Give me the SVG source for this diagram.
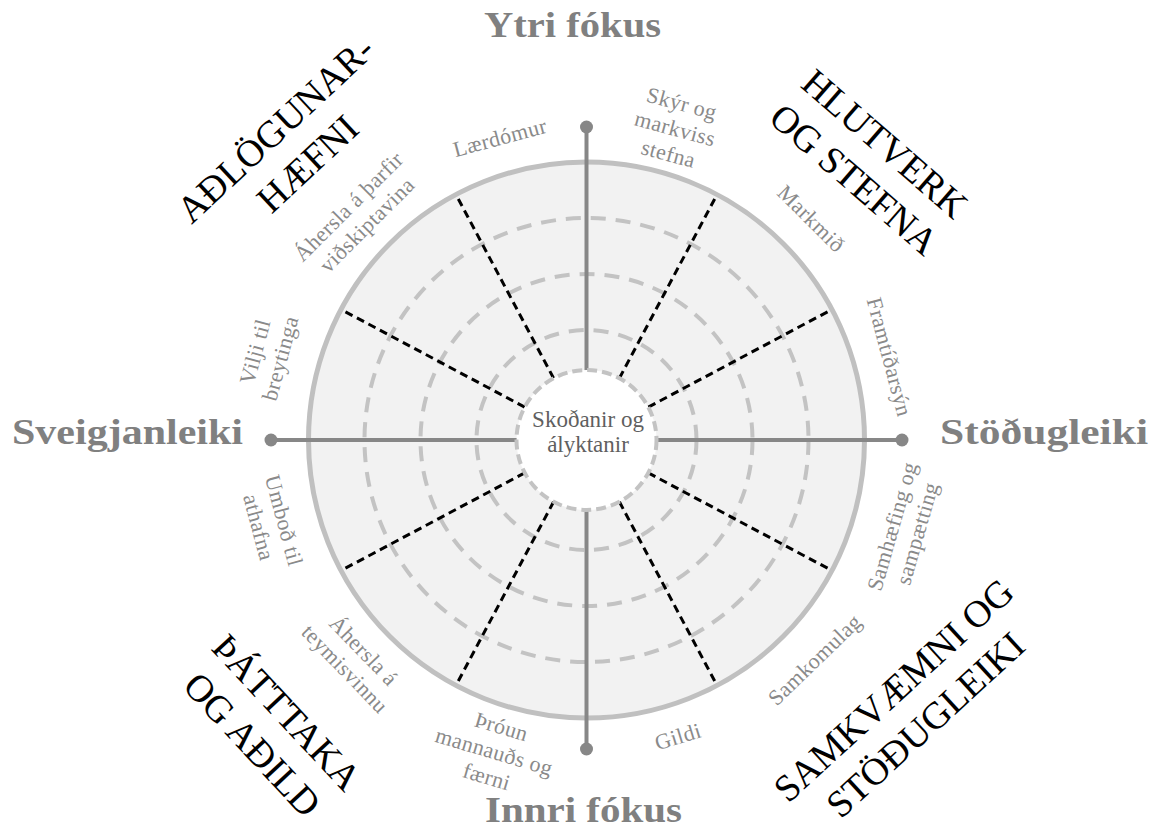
<svg xmlns="http://www.w3.org/2000/svg" width="1154" height="830" viewBox="0 0 1154 830">
<style>
  .axislbl { font-family: "Liberation Serif", "DejaVu Serif", serif; font-weight: bold; font-size: 36px; fill: #808080; }
  .big { font-family: "Liberation Serif", "DejaVu Serif", serif; font-size: 38px; fill: #000; text-anchor: middle; }
  .lbl { font-family: "Liberation Serif", "DejaVu Serif", serif; font-size: 22px; fill: #8a8a8a; text-anchor: middle; letter-spacing: 0.4px; }
  .ctr { font-family: "Liberation Serif", "DejaVu Serif", serif; font-size: 23px; fill: #5f5f5f; text-anchor: middle; }
  .ring { fill: none; stroke: #c3c3c3; stroke-width: 4; stroke-dasharray: 15 10; }
  .sector { stroke: #000; stroke-width: 3; stroke-dasharray: 8 5; fill: none; }
  .axis { stroke: #878787; stroke-width: 4; fill: none; }
  .dot { fill: #878787; }
</style>

<g id="wheel">
  <circle cx="586.5" cy="440" r="278" fill="#f2f2f2" stroke="#c0c0c0" stroke-width="5"/>
  <circle class="ring" cx="586.5" cy="440" r="222"/>
  <circle class="ring" cx="586.5" cy="440" r="166"/>
  <circle class="ring" cx="586.5" cy="440" r="110"/>
</g>

<g id="connectors">
  <line class="sector" x1="619.4" y1="378.2" x2="716.1" y2="196.3"/>
  <line class="sector" x1="648.3" y1="407.1" x2="830.2" y2="310.4"/>
  <line class="sector" x1="648.3" y1="472.9" x2="830.2" y2="569.6"/>
  <line class="sector" x1="619.4" y1="501.8" x2="716.1" y2="683.7"/>
  <line class="sector" x1="553.6" y1="501.8" x2="456.9" y2="683.7"/>
  <line class="sector" x1="524.7" y1="472.9" x2="342.8" y2="569.6"/>
  <line class="sector" x1="524.7" y1="407.1" x2="342.8" y2="310.4"/>
  <line class="sector" x1="553.6" y1="378.2" x2="456.9" y2="196.3"/>
  <line class="axis" x1="586.5" y1="127" x2="586.5" y2="749"/>
  <line class="axis" x1="271" y1="440" x2="902" y2="440"/>
  <circle class="dot" cx="586.5" cy="127" r="6.5"/>
  <circle class="dot" cx="586.5" cy="749" r="6.5"/>
  <circle class="dot" cx="271" cy="440" r="6.5"/>
  <circle class="dot" cx="902" cy="440" r="6.5"/>
</g>

<g id="center">
  <circle cx="586.5" cy="440" r="70" fill="#ffffff" stroke="#c3c3c3" stroke-width="4" stroke-dasharray="10 5"/>
  <text class="ctr"><tspan x="588" y="427">Skoðanir og</tspan><tspan x="588" y="452">ályktanir</tspan></text>
</g>

<g id="axis-labels">
  <text class="axislbl" x="484" y="37" textLength="177" lengthAdjust="spacingAndGlyphs">Ytri fókus</text>
  <text class="axislbl" x="485" y="822" textLength="197" lengthAdjust="spacingAndGlyphs">Innri fókus</text>
  <text class="axislbl" x="12" y="444" textLength="231" lengthAdjust="spacingAndGlyphs">Sveigjanleiki</text>
  <text class="axislbl" x="940" y="444" textLength="208" lengthAdjust="spacingAndGlyphs">Stöðugleiki</text>
</g>

<g id="big-labels">
  <g id="adlogunarhaefni" transform="translate(291,146) rotate(-43)">
    <text class="big"><tspan x="0" y="-10">AÐLÖGUNAR-</tspan><tspan x="0" y="37">HÆFNI</tspan></text>
  </g>
  <g id="hlutverk" transform="translate(870,161) rotate(41)">
    <text class="big"><tspan x="0" y="-10">HLUTVERK</tspan><tspan x="0" y="37">OG STEFNA</tspan></text>
  </g>
  <g id="thatttaka" transform="translate(270,728) rotate(47)">
    <text class="big"><tspan x="0" y="-10">ÞÁTTTAKA</tspan><tspan x="0" y="37">OG AÐILD</tspan></text>
  </g>
  <g id="samkvaemni" transform="translate(909,707) rotate(-42.5)">
    <text class="big"><tspan x="0" y="-10">SAMKVÆMNI OG</tspan><tspan x="0" y="37">STÖÐUGLEIKI</tspan></text>
  </g>
</g>

<g id="sector-labels">
  <g id="l-laerdomur" transform="translate(500,138) rotate(-15)">
    <text class="lbl"><tspan x="0" y="7">Lærdómur</tspan></text>
  </g>
  <g id="l-skyr" transform="translate(675,129) rotate(15)">
    <text class="lbl"><tspan x="0" y="-19">Skýr og</tspan><tspan x="0" y="7">markviss</tspan><tspan x="0" y="33">stefna</tspan></text>
  </g>
  <g id="l-markmid" transform="translate(811,219) rotate(45)">
    <text class="lbl"><tspan x="0" y="7">Markmið</tspan></text>
  </g>
  <g id="l-framtidarsyn" transform="translate(889,357) rotate(75)">
    <text class="lbl"><tspan x="0" y="7">Framtíðarsýn</tspan></text>
  </g>
  <g id="l-samhaefing" transform="translate(905,530) rotate(-74)">
    <text class="lbl"><tspan x="0" y="-6">Samhæfing og</tspan><tspan x="0" y="20">sampætting</tspan></text>
  </g>
  <g id="l-samkomulag" transform="translate(815,660) rotate(-44)">
    <text class="lbl"><tspan x="0" y="7">Samkomulag</tspan></text>
  </g>
  <g id="l-gildi" transform="translate(678,737) rotate(-17)">
    <text class="lbl"><tspan x="0" y="7">Gildi</tspan></text>
  </g>
  <g id="l-throun" transform="translate(494,752) rotate(16.5)">
    <text class="lbl"><tspan x="0" y="-19">Þróun</tspan><tspan x="0" y="7">mannauðs og</tspan><tspan x="0" y="33">færni</tspan></text>
  </g>
  <g id="l-teymisvinnu" transform="translate(354,660) rotate(46)">
    <text class="lbl"><tspan x="0" y="-6">Áhersla á</tspan><tspan x="0" y="20">teymisvinnu</tspan></text>
  </g>
  <g id="l-umbod" transform="translate(271,524) rotate(75)">
    <text class="lbl"><tspan x="0" y="-6">Umboð til</tspan><tspan x="0" y="20">athafna</tspan></text>
  </g>
  <g id="l-vilji" transform="translate(268,355) rotate(-75)">
    <text class="lbl"><tspan x="0" y="-6">Vilji til</tspan><tspan x="0" y="20">breytinga</tspan></text>
  </g>
  <g id="l-vidskiptavina" transform="translate(358,216) rotate(-45)">
    <text class="lbl"><tspan x="0" y="-6">Áhersla á þarfir</tspan><tspan x="0" y="20">viðskiptavina</tspan></text>
  </g>
</g>
</svg>
